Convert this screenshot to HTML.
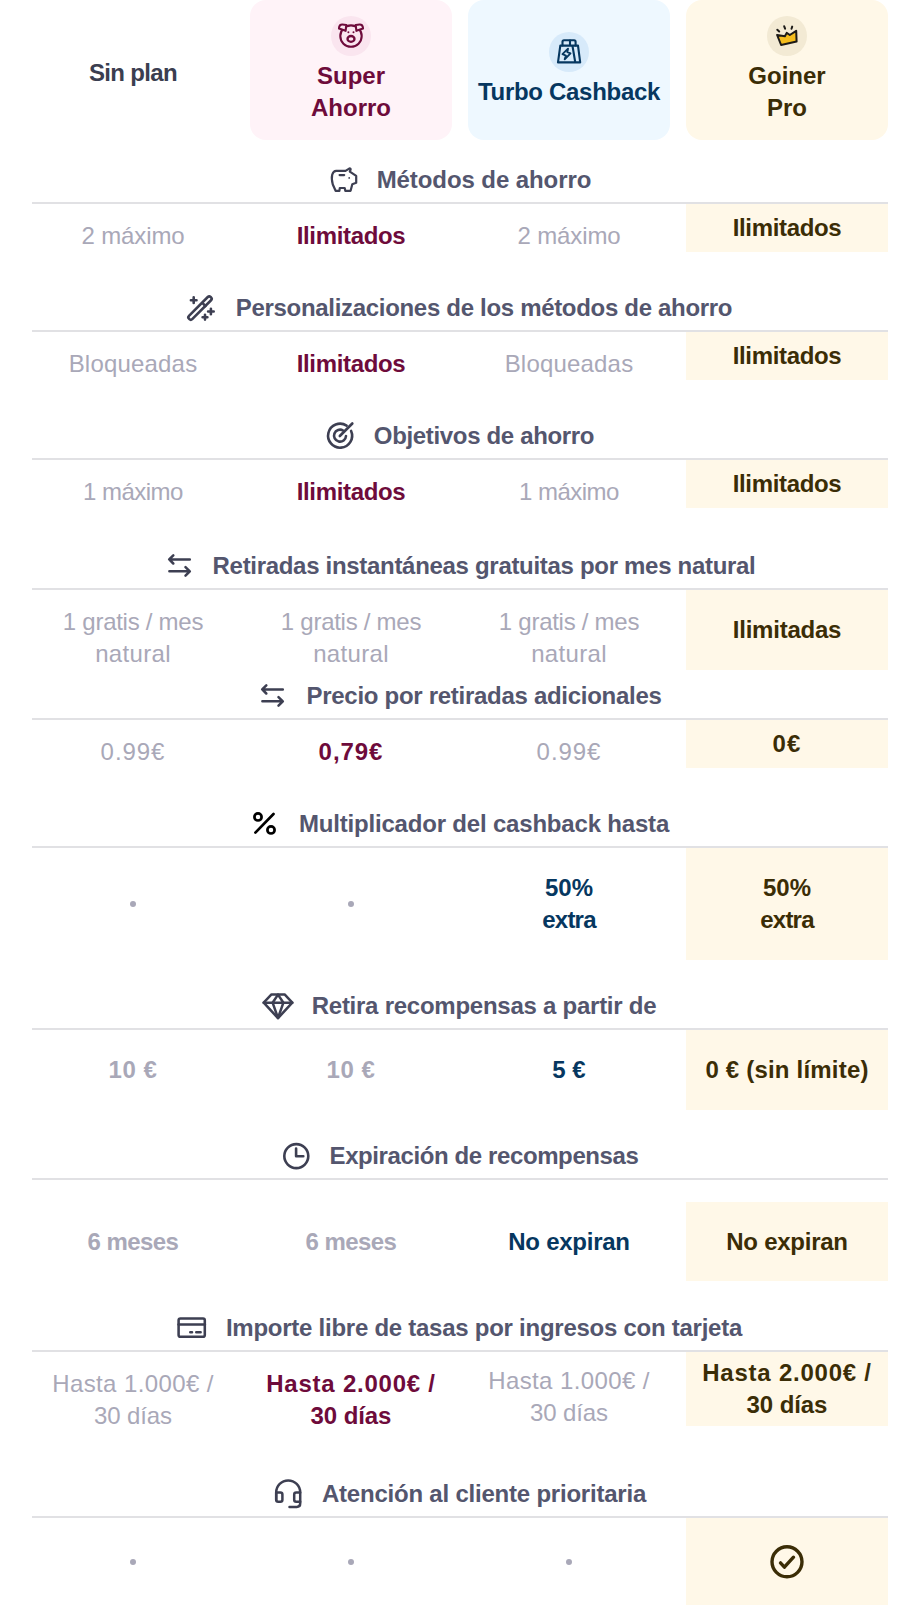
<!DOCTYPE html>
<html><head><meta charset="utf-8">
<style>
html,body{margin:0;padding:0;background:#fff;}
body{width:920px;height:1622px;position:relative;overflow:hidden;font-family:"Liberation Sans",sans-serif;font-size:24px;line-height:32px;}
.card{position:absolute;top:0;width:202px;height:140px;border-radius:16px;}
.circ{position:absolute;width:40px;height:40px;border-radius:50%;}
.ht{position:absolute;width:202px;text-align:center;font-weight:700;}
.line{position:absolute;left:32px;width:856px;height:2px;background:#e1e1e4;}
.hd{position:absolute;left:0;width:968px;text-align:center;color:#54566e;font-weight:700;white-space:nowrap;}
.c{position:absolute;width:202px;text-align:center;}
.c1{left:32px}.c2{left:250px}.c3{left:468px}.c4{left:686px}
.g{color:#a9a8b8;}
.gs{color:#a9a8b8;font-weight:700;}
.sa{color:#6e0b3b;font-weight:700;}
.tc{color:#063760;font-weight:700;}
.gp{color:#3b2d06;font-weight:700;}
.bg{position:absolute;left:686px;width:202px;background:#fff8e8;}
.dot{position:absolute;width:6px;height:6px;border-radius:50%;background:#a9a8b8;}
svg.ov{position:absolute;left:0;top:0;}
</style></head><body>
<div class="ht" style="left:32px;top:57px;color:#3b3e50;letter-spacing:-0.67px;">Sin plan</div>
<div class="card" style="left:250px;background:#fff3f8;"></div>
<div class="circ" style="left:331px;top:16px;background:#fae5ef;"></div>
<div class="ht" style="left:250px;top:60px;color:#6e0b3b;">Super<br>Ahorro</div>
<div class="card" style="left:468px;background:#eef8ff;"></div>
<div class="circ" style="left:549px;top:32px;background:#d7eafa;"></div>
<div class="ht" style="left:468px;top:76px;color:#063760;letter-spacing:-0.3px;">Turbo Cashback</div>
<div class="card" style="left:686px;background:#fff8e8;"></div>
<div class="circ" style="left:767px;top:16px;background:#f3ead4;"></div>
<div class="ht" style="left:686px;top:60px;color:#3b2d06;">Goiner<br>Pro</div>

<div class="hd" style="top:164px;letter-spacing:-0.084px;">Métodos de ahorro</div>
<div class="line" style="top:202px;"></div>
<div class="bg" style="top:204px;height:48px;"></div>
<div class="c c1 g" style="top:220px;"><span style="letter-spacing:-0.1px">2 máximo</span></div>
<div class="c c2 sa" style="top:220px;"><span style="letter-spacing:-0.35px">Ilimitados</span></div>
<div class="c c3 g" style="top:220px;"><span style="letter-spacing:-0.1px">2 máximo</span></div>
<div class="c c4 gp" style="top:212px;"><span style="letter-spacing:-0.35px">Ilimitados</span></div>
<div class="hd" style="top:292px;letter-spacing:-0.312px;">Personalizaciones de los métodos de ahorro</div>
<div class="line" style="top:330px;"></div>
<div class="bg" style="top:332px;height:48px;"></div>
<div class="c c1 g" style="top:348px;"><span style="letter-spacing:0.19px">Bloqueadas</span></div>
<div class="c c2 sa" style="top:348px;"><span style="letter-spacing:-0.35px">Ilimitados</span></div>
<div class="c c3 g" style="top:348px;"><span style="letter-spacing:0.19px">Bloqueadas</span></div>
<div class="c c4 gp" style="top:340px;"><span style="letter-spacing:-0.35px">Ilimitados</span></div>
<div class="hd" style="top:420px;letter-spacing:-0.336px;">Objetivos de ahorro</div>
<div class="line" style="top:458px;"></div>
<div class="bg" style="top:460px;height:48px;"></div>
<div class="c c1 g" style="top:476px;"><span style="letter-spacing:-0.53px">1 máximo</span></div>
<div class="c c2 sa" style="top:476px;"><span style="letter-spacing:-0.35px">Ilimitados</span></div>
<div class="c c3 g" style="top:476px;"><span style="letter-spacing:-0.53px">1 máximo</span></div>
<div class="c c4 gp" style="top:468px;"><span style="letter-spacing:-0.35px">Ilimitados</span></div>
<div class="hd" style="top:550px;letter-spacing:-0.305px;">Retiradas instantáneas gratuitas por mes natural</div>
<div class="line" style="top:588px;"></div>
<div class="bg" style="top:590px;height:80px;"></div>
<div class="c c1 g" style="top:606px;"><span style="letter-spacing:-0.27px">1 gratis / mes</span><br><span style="letter-spacing:0.32px">natural</span></div>
<div class="c c2 g" style="top:606px;"><span style="letter-spacing:-0.27px">1 gratis / mes</span><br><span style="letter-spacing:0.32px">natural</span></div>
<div class="c c3 g" style="top:606px;"><span style="letter-spacing:-0.27px">1 gratis / mes</span><br><span style="letter-spacing:0.32px">natural</span></div>
<div class="c c4 gp" style="top:614px;"><span style="letter-spacing:-0.22px">Ilimitadas</span></div>
<div class="hd" style="top:680px;letter-spacing:-0.284px;">Precio por retiradas adicionales</div>
<div class="line" style="top:718px;"></div>
<div class="bg" style="top:720px;height:48px;"></div>
<div class="c c1 g" style="top:736px;"><span style="letter-spacing:0.95px">0.99€</span></div>
<div class="c c2 sa" style="top:736px;"><span style="letter-spacing:0.95px">0,79€</span></div>
<div class="c c3 g" style="top:736px;"><span style="letter-spacing:0.95px">0.99€</span></div>
<div class="c c4 gp" style="top:728px;"><span style="letter-spacing:1.2px">0€</span></div>
<div class="hd" style="top:808px;letter-spacing:-0.186px;">Multiplicador del cashback hasta</div>
<div class="line" style="top:846px;"></div>
<div class="bg" style="top:848px;height:112px;"></div>
<div class="dot" style="left:130px;top:901px;"></div>
<div class="dot" style="left:348px;top:901px;"></div>
<div class="c c3 tc" style="top:872px;"><span style="letter-spacing:0.05px">50%</span><br><span style="letter-spacing:-0.78px">extra</span></div>
<div class="c c4 gp" style="top:872px;"><span style="letter-spacing:0.05px">50%</span><br><span style="letter-spacing:-0.78px">extra</span></div>
<div class="hd" style="top:990px;letter-spacing:-0.252px;">Retira recompensas a partir de</div>
<div class="line" style="top:1028px;"></div>
<div class="bg" style="top:1030px;height:80px;"></div>
<div class="c c1 gs" style="top:1054px;"><span style="letter-spacing:0.55px">10 €</span></div>
<div class="c c2 gs" style="top:1054px;"><span style="letter-spacing:0.55px">10 €</span></div>
<div class="c c3 tc" style="top:1054px;">5 €</div>
<div class="c c4 gp" style="top:1054px;"><span style="letter-spacing:0.2px">0 € (sin límite)</span></div>
<div class="hd" style="top:1140px;letter-spacing:-0.394px;">Expiración de recompensas</div>
<div class="line" style="top:1178px;"></div>
<div class="bg" style="top:1202px;height:79px;"></div>
<div class="c c1 gs" style="top:1226px;"><span style="letter-spacing:-0.57px">6 meses</span></div>
<div class="c c2 gs" style="top:1226px;"><span style="letter-spacing:-0.57px">6 meses</span></div>
<div class="c c3 tc" style="top:1226px;"><span style="letter-spacing:-0.26px">No expiran</span></div>
<div class="c c4 gp" style="top:1226px;"><span style="letter-spacing:-0.26px">No expiran</span></div>
<div class="hd" style="top:1312px;letter-spacing:-0.257px;">Importe libre de tasas por ingresos con tarjeta</div>
<div class="line" style="top:1350px;"></div>
<div class="bg" style="top:1352px;height:74px;"></div>
<div class="c c1 g" style="top:1368px;"><span style="letter-spacing:0.39px">Hasta 1.000€ /</span><br><span style="letter-spacing:-0.09px">30 días</span></div>
<div class="c c2 sa" style="top:1368px;"><span style="letter-spacing:0.76px">Hasta 2.000€ /</span><br><span style="letter-spacing:-0.09px">30 días</span></div>
<div class="c c3 g" style="top:1365px;"><span style="letter-spacing:0.39px">Hasta 1.000€ /</span><br><span style="letter-spacing:-0.09px">30 días</span></div>
<div class="c c4 gp" style="top:1357px;"><span style="letter-spacing:0.76px">Hasta 2.000€ /</span><br><span style="letter-spacing:-0.09px">30 días</span></div>
<div class="hd" style="top:1478px;letter-spacing:-0.213px;">Atención al cliente prioritaria</div>
<div class="line" style="top:1516px;"></div>
<div class="bg" style="top:1518px;height:87px;"></div>
<div class="dot" style="left:130px;top:1559px;"></div>
<div class="dot" style="left:348px;top:1559px;"></div>
<div class="dot" style="left:566px;top:1559px;"></div>
<svg class="ov" width="920" height="1622" viewBox="0 0 920 1622">

<g fill="none" stroke="#6e0b3b" stroke-width="2.1" stroke-linejoin="round" stroke-linecap="round">
<circle cx="351" cy="36.1" r="10.7"/>
<path d="M346.3 25 L342.3 24.5 Q339.7 24.4 339.2 27 L339 28.6 L345.6 30.8 Z" fill="#fae5ef"/>
<path d="M355.7 25 L359.7 24.5 Q362.3 24.4 362.8 27 L363 28.6 L356.4 30.8 Z" fill="#fae5ef"/>
<ellipse cx="351" cy="38.9" rx="3.5" ry="2.9" stroke-width="2.3"/>
<circle cx="348.4" cy="32.2" r="1" fill="#6e0b3b" stroke="none"/><circle cx="353.5" cy="32.2" r="1" fill="#6e0b3b" stroke="none"/>
</g>
<g fill="none" stroke="#063760" stroke-width="2.1" stroke-linejoin="round" stroke-linecap="round">
<path d="M562.5 45.5 V41.8 Q562.5 40.3 564 40.3 H574.1 Q575.6 40.3 575.6 41.8 V45.5"/>
<path d="M570 40.5 V45"/>
<path d="M560.3 45.6 H578 L580.2 62.4 H558 Z"/>
<path d="M572.5 46 L575.2 62"/>
<path d="M568 48.7 L562.5 54.2 L565.9 55.6 L564.7 59.3 L570.5 53.4 L567.4 52.1 Z" stroke-width="1.9"/>
</g>
<g fill="none" stroke="#1c1a17" stroke-width="2" stroke-linejoin="round" stroke-linecap="round">
<path d="M777.1 35 L784.9 36.3 L786.7 32.9 L789.8 35 L796.2 30.8 L796.6 41.6 L781.1 45 Z" fill="#f4bc1c"/>
<path d="M777.3 29.7 L779.2 31.5 M784.2 26.3 L785.1 28.7 M792.2 26.6 L791.5 28.7"/>
</g>

<g transform="translate(0 0)" fill="none" stroke="#3d3f52" stroke-width="2.2" stroke-linejoin="round" stroke-linecap="round">
<path d="M336.2 170.9 H345.5 L349.2 168.6 Q350.8 168 350.6 169.6 L349.8 171.6 L356.2 175.9 V182.8 L352.3 184.2 L350.6 190.8 H345.3 L344.7 188 H339.8 L339.4 190.8 H335.6 L332.8 184.5 Q331.2 178.5 332.2 174.8 Q333.3 171 336.2 170.9 Z"/>
<path d="M339.6 175.1 H344.2"/><circle cx="349.2" cy="177.9" r="0.9" fill="#3d3f52" stroke="none"/>
</g>
<g transform="translate(0 0)" fill="none" stroke="#3d3f52" stroke-width="2.6" stroke-linejoin="round" stroke-linecap="round">
<rect x="-2.3" y="-15.3" width="4.6" height="30.6" rx="2" transform="translate(200 308.05) rotate(45)"/>
<path d="M202.6 303.2 L205.4 306"/>
<path d="M190.9 300.2 H196.5 M193.7 297.4 V303"/>
<path d="M208.1 311.5 H213.7 M210.9 308.7 V314.3"/>
<path d="M202.6 317.2 H207.4 M205 314.8 V319.6"/>
</g>
<g transform="translate(0 0)" fill="none" stroke="#3d3f52" stroke-width="2.6" stroke-linecap="round">
<path d="M351.1 430.9 A12 12 0 1 1 346.6 425.6"/>
<path d="M346 436 A6 6 0 1 1 343.1 430.5"/>
<path d="M339.8 436 L352.3 423.5"/>
</g>
<g transform="translate(0 0)" fill="none" stroke="#3d3f52" stroke-width="2.55" stroke-linejoin="round" stroke-linecap="round">
<path d="M189.8 559.4 H169.4 M173.3 555.3 L169.2 559.4 L173.3 563.5"/>
<path d="M169.4 571.3 H189.6 M185.5 567.2 L189.8 571.3 L185.5 575.6"/>
</g>
<g transform="translate(93 130)" fill="none" stroke="#3d3f52" stroke-width="2.55" stroke-linejoin="round" stroke-linecap="round">
<path d="M189.8 559.4 H169.4 M173.3 555.3 L169.2 559.4 L173.3 563.5"/>
<path d="M169.4 571.3 H189.6 M185.5 567.2 L189.8 571.3 L185.5 575.6"/>
</g>
<g transform="translate(0 0)" fill="none" stroke="#000" stroke-width="2.7" stroke-linecap="round">
<circle cx="258" cy="816.9" r="3.6"/><circle cx="271" cy="829.9" r="3.6"/>
<path d="M255.4 832.6 L273.5 814"/>
</g>
<g transform="translate(0 0)" fill="none" stroke="#3d3f52" stroke-width="2.5" stroke-linejoin="round" stroke-linecap="round">
<path d="M271.5 994.4 H284.6 L292.3 1002.7 L278 1018.2 L263.7 1002.7 Z"/>
<path d="M263.7 1002.7 H292.3"/>
<path d="M278 994.6 L272.6 1002.7 L278 1018 L283.4 1002.7 Z"/>
</g>
<g transform="translate(0 0)" fill="none" stroke="#3d3f52" stroke-width="2.6" stroke-linejoin="round" stroke-linecap="round">
<circle cx="296.3" cy="1156.1" r="12"/>
<path d="M296.1 1148.5 V1156.3 H303.3"/>
</g>
<g transform="translate(0 0)" fill="none" stroke="#3d3f52" stroke-width="2.55" stroke-linejoin="round" stroke-linecap="round">
<rect x="178.6" y="1318.4" width="26.2" height="18.3" rx="1.8"/>
<path d="M178.6 1324.5 H204.8"/>
<path d="M190.3 1332.3 H192 M196.3 1332.3 H200.6" stroke-width="2.6"/>
</g>
<g transform="translate(0 0)" fill="none" stroke="#3d3f52" stroke-width="2.5" stroke-linejoin="round" stroke-linecap="round">
<path d="M276.2 1500 V1492.4 A12 12 0 0 1 300.2 1492.4 V1503.5 Q300.2 1506.9 296.8 1506.9 H289.5"/>
<path d="M276.2 1492.5 H280.4 Q282.4 1492.5 282.4 1494.5 V1499.7 Q282.4 1501.7 280.4 1501.7 H278.2 Q276.2 1501.7 276.2 1499.7 Z"/>
<path d="M300.2 1492.5 H296.2 Q294.2 1492.5 294.2 1494.5 V1499.7 Q294.2 1501.7 296.2 1501.7 H300.2"/>
</g>
<g fill="none" stroke="#3b2d06" stroke-width="3.4" stroke-linejoin="round" stroke-linecap="round">
<circle cx="787" cy="1561.8" r="15"/><path d="M780.5 1562.9 L784.4 1567.2 L793.5 1557.2"/></g>
</svg>
</body></html>
